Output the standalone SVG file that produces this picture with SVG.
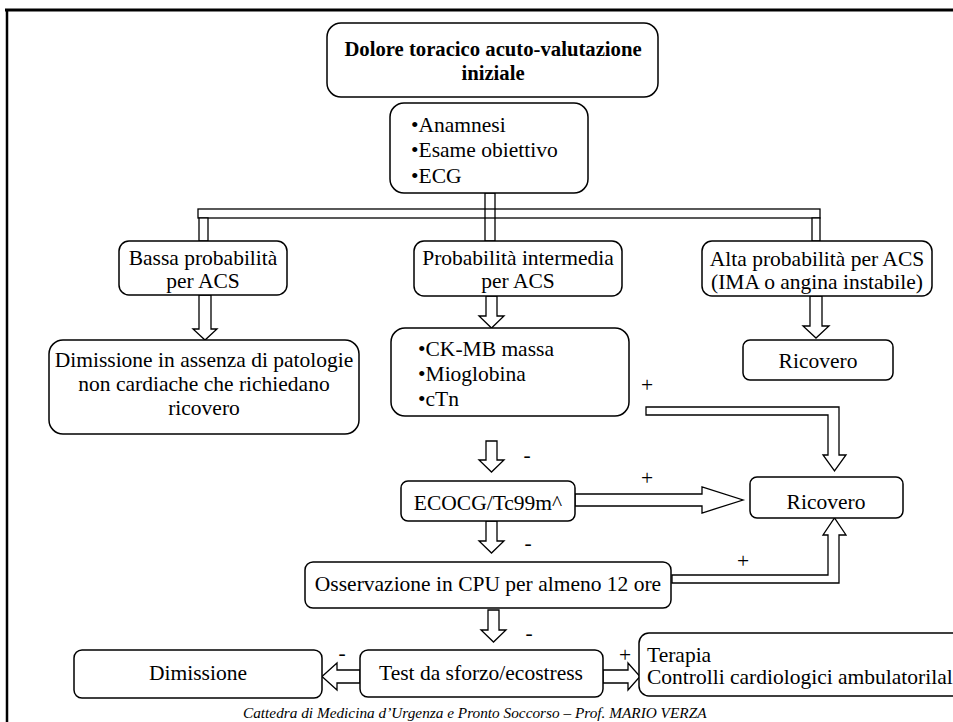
<svg xmlns="http://www.w3.org/2000/svg" width="953" height="722" viewBox="0 0 953 722">
<style>
.box{fill:#fff;stroke:#000;stroke-width:1.5}
.t{font-family:"Liberation Serif","Times New Roman",serif;font-size:21.5px;fill:#000}
.c{text-anchor:middle}
.b{font-weight:bold;font-size:20.7px}
.ar{fill:#fff;stroke:#000;stroke-width:1.3;stroke-linejoin:miter}
.ln{fill:none;stroke:#000;stroke-width:1.3}
.f{font-family:"Liberation Serif","Times New Roman",serif;font-size:15.3px;font-style:italic;fill:#000}
</style>
<rect width="953" height="722" fill="#fff"/>
<g id="frame">
<line x1="5" y1="10" x2="953" y2="10" stroke="#000" stroke-width="3"/>
<line x1="7" y1="9" x2="7" y2="722" stroke="#000" stroke-width="2.5"/>
</g>
<g id="connectors">
<rect class="ln" x="198" y="209" width="622" height="9"/>
<rect class="ar" x="199" y="218" width="9" height="23"/>
<rect class="ar" x="812" y="218" width="8" height="23"/>
<rect class="ln" x="485" y="193" width="10" height="48"/>
<path class="ar" d="M199,295 H211 V329 H217 L205,340 L193,329 H199 Z"/>
<path class="ar" d="M486,296 H497 V316 H504 L491.5,328 L479,316 H486 Z"/>
<path class="ar" d="M810,296 H822 V326 H829 L816,338 L803,326 H810 Z"/>
<path class="ar" d="M486,441 H497 V460 H504 L491.5,472 L479,460 H486 Z"/>
<path class="ar" d="M486,521 H497 V541 H504 L491.5,553 L479,541 H486 Z"/>
<path class="ar" d="M488,610 H499 V630 H506 L493.5,642 L481,630 H488 Z"/>
<path class="ar" d="M360,670 H337 V663 L322,676.5 L337,690 V683 H360 Z"/>
<path class="ar" d="M603,670 H628 V663 L640,676.5 L628,690 V683 H603 Z"/>
<path class="ar" d="M575,494 H702 V487 L743,500 L702,513 V506 H575 Z"/>
<path class="ar" d="M646,407 H839 V455 H846 L834.5,471 L823,455 H828 V415 H646 Z"/>
<path class="ar" d="M672,575 H828 V535 H823 L834.5,518 L846,535 H839 V583 H672 Z"/>
</g>
<g id="n_top"><rect class="box" x="327" y="23" width="331" height="74" rx="14"/>
<text class="t c b" x="493" y="56">Dolore toracico acuto-valutazione</text>
<text class="t c b" x="493" y="80">iniziale</text></g>
<g id="n_anamnesi"><rect class="box" x="390" y="103" width="198" height="90" rx="14"/>
<text class="t" x="411" y="132">•Anamnesi</text>
<text class="t" x="411" y="157">•Esame obiettivo</text>
<text class="t" x="411" y="183">•ECG</text></g>
<g id="n_bassa"><rect class="box" x="119" y="241" width="168" height="54" rx="10"/>
<text class="t c" x="203" y="265">Bassa probabilità</text>
<text class="t c" x="203" y="288">per ACS</text></g>
<g id="n_intermedia"><rect class="box" x="414" y="241" width="208" height="55" rx="10"/>
<text class="t c" x="518" y="265">Probabilità intermedia</text>
<text class="t c" x="518" y="288">per ACS</text></g>
<g id="n_alta"><rect class="box" x="702" y="241" width="230" height="55" rx="10"/>
<text class="t c" x="817" y="266">Alta probabilità per ACS</text>
<text class="t c" x="817" y="289">(IMA o angina instabile)</text></g>
<g id="n_dimissione1"><rect class="box" x="49" y="340" width="310" height="94" rx="14"/>
<text class="t c" x="204" y="367">Dimissione in assenza di patologie</text>
<text class="t c" x="204" y="391">non cardiache che richiedano</text>
<text class="t c" x="204" y="415">ricovero</text></g>
<g id="n_ck"><rect class="box" x="391" y="328" width="238" height="88" rx="14"/>
<text class="t" x="418" y="356">•CK-MB massa</text>
<text class="t" x="418" y="381">•Mioglobina</text>
<text class="t" x="418" y="406">•cTn</text></g>
<g id="n_ricovero1"><rect class="box" x="743" y="340" width="150" height="40" rx="7"/>
<text class="t c" x="818" y="368">Ricovero</text></g>
<g id="n_ecocg"><rect class="box" x="401" y="481" width="174" height="40" rx="7"/>
<text class="t c" x="488" y="510">ECOCG/Tc99m^</text></g>
<g id="n_ricovero2"><rect class="box" x="750" y="477" width="153" height="41" rx="7"/>
<text class="t c" x="826" y="509">Ricovero</text></g>
<g id="n_cpu"><rect class="box" x="305" y="562" width="366" height="46" rx="8"/>
<text class="t c" x="488" y="591">Osservazione in CPU per almeno 12 ore</text></g>
<g id="n_dimissione2"><rect class="box" x="74" y="650" width="248" height="48" rx="8"/>
<text class="t c" x="198" y="680">Dimissione</text></g>
<g id="n_test"><rect class="box" x="360" y="650" width="243" height="47" rx="8"/>
<text class="t c" x="481" y="680">Test da sforzo/ecostress</text></g>
<g id="n_terapia"><rect class="box" x="639" y="633" width="330" height="63" rx="10"/>
<text class="t" x="647" y="662">Terapia</text>
<text class="t" x="647" y="684">Controlli cardiologici ambulatorilal</text></g>
<g id="labels">
<text class="t c" x="647" y="392">+</text>
<text class="t c" x="647" y="485">+</text>
<text class="t c" x="743" y="568">+</text>
<text class="t c" x="625" y="662">+</text>
<text class="t c" x="527" y="462">-</text>
<text class="t c" x="528" y="550">-</text>
<text class="t c" x="529" y="640">-</text>
<text class="t c" x="342" y="660">-</text>
</g>
<text class="f" x="243" y="718">Cattedra di Medicina d’Urgenza e Pronto Soccorso – Prof. MARIO VERZA</text>
</svg>
